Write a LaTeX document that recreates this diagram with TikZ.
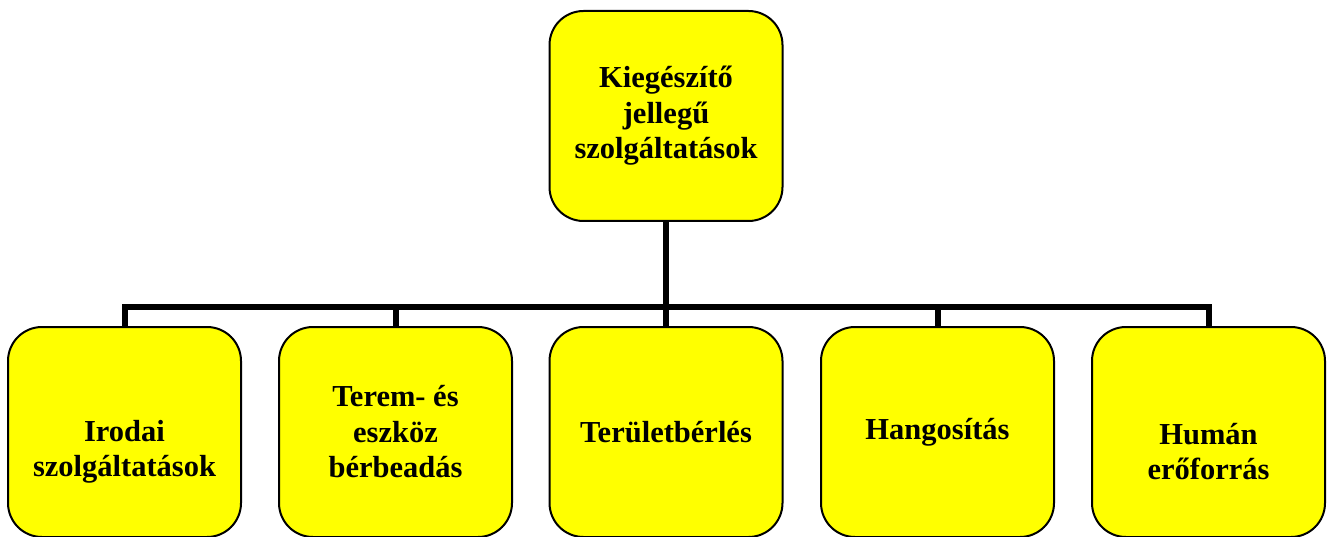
\documentclass[tikz,border=0pt]{standalone}
\usepackage{fontspec}
\setmainfont{Liberation Serif}
\usepackage{tikz}
\definecolor{boxyellow}{RGB}{255,255,0}
\tikzstyle{orgbox}=[draw=black,line width=2pt,fill=boxyellow,rounded corners=34pt,minimum width=233pt,minimum height=210pt,align=center,inner sep=2pt,font=\bfseries\fontsize{30.5}{35.5}\selectfont]

\begin{document}
\begin{tikzpicture}[x=1pt,y=-1pt]
    \tikzstyle{link}=[line width=6pt,draw=black]
    \useasboundingbox (0,0) rectangle (1327,537);

    \node[orgbox] (top) at (666,116) {Kiegészítő\\jellegű\\szolgáltatások};

    \node[orgbox] (b1) at (124.5,432) {\strut\\Irodai\\szolgáltatások};
    \node[orgbox] (b2) at (395.5,432) {Terem- és\\eszköz\\bérbeadás};
    \node[orgbox] (b3) at (666,432)   {Területbérlés};
    \node[orgbox] (b4) at (937.5,432) {Hangosítás};
    \node[orgbox] (b5) at (1208.5,432) {\strut\\Humán\\erőforrás};

    \coordinate (bar) at (666,307);

    \draw[link] (top.south) -- (bar);
    \draw[link] (b1.north) |- (bar) -| (b5.north);
    \foreach \b in {b2,b3,b4}
        \draw[link] (\b.north) -- (\b.north |- bar);
\end{tikzpicture}
\end{document}
